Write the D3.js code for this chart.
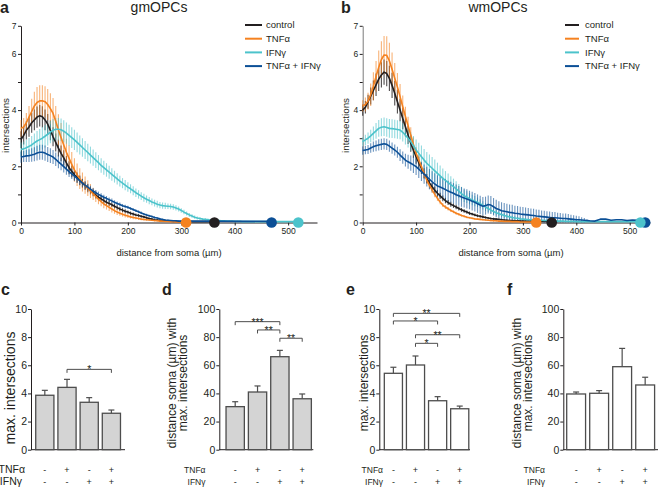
<!DOCTYPE html>
<html><head><meta charset="utf-8">
<script src="https://cdn.jsdelivr.net/npm/d3@7"></script>
<style>body{margin:0;background:#fff;} svg{display:block;font-family:"Liberation Sans",Arial,sans-serif;}</style>
</head><body><svg id="fig" width="660" height="487"></svg>
<script>
// ---------- Sholl profiles (5 µm steps from soma) ----------
const STEP = 5;
const seriesNames = ["control", "TNFα", "IFNγ", "TNFα + IFNγ"];
const lineYTicks = [0,1,2,3,4,5,6,7];
const lineYLabels = [0,2,4,6,7];
const lineXTicks = [0,100,200,300,400,500];

// panel a : gmOPCs
const aCtrl = [2.95,3.1,3.28,3.4,3.55,3.65,3.75,3.8,3.76,3.65,3.5,3.28,3.05,2.85,2.65,2.46,2.3,2.12,1.95,1.82,1.7,1.6,1.5,1.4,1.31,1.22,1.13,1.05,0.97,0.9,0.84,0.78,0.72,0.68,0.63,0.58,0.53,0.48,0.44,0.4,0.37,0.33,0.3,0.27,0.25,0.22,0.2,0.17,0.14,0.12,0.1,0.09,0.08,0.07,0.06,0.05,0.05,0.04,0.04,0.03,0.03];
const aCtrlErr = [0.3,0.32,0.33,0.35,0.36,0.37,0.38,0.38,0.38,0.37,0.36,0.35,0.34,0.32,0.3,0.28,0.27,0.25,0.23,0.21,0.2,0.18,0.17,0.16,0.15,0.14,0.13,0.12,0.12,0.11,0.1,0.1,0.09,0.09,0.08,0.08,0.08,0.07,0.07,0.07,0.06,0.06,0.06,0.05,0.05,0.05,0.04,0.04,0.04,0.03,0.03,0.03,0.03,0.02,0.02,0.02,0.02,0.02,0.01,0.01,0.01];
const aTnf = [3.35,3.4,3.55,3.75,3.95,4.15,4.27,4.33,4.33,4.3,4.2,4.05,3.88,3.6,3.3,3.02,2.76,2.5,2.28,2.07,1.87,1.7,1.56,1.44,1.33,1.22,1.12,1.02,0.93,0.83,0.74,0.66,0.6,0.54,0.48,0.42,0.37,0.33,0.29,0.26,0.23,0.2,0.18,0.16,0.14,0.12,0.11,0.1,0.09,0.08,0.07,0.06,0.05,0.05,0.04,0.04,0.03,0.03,0.02,0.02,0.02];
const aTnfErr = [0.3,0.32,0.35,0.4,0.45,0.5,0.55,0.55,0.55,0.55,0.55,0.55,0.55,0.55,0.55,0.52,0.5,0.48,0.46,0.44,0.42,0.4,0.37,0.34,0.31,0.28,0.25,0.22,0.2,0.18,0.16,0.15,0.14,0.13,0.12,0.11,0.1,0.09,0.08,0.08,0.07,0.06,0.06,0.05,0.05,0.04,0.04,0.04,0.03,0.03,0.03,0.02,0.02,0.02,0.02,0.02,0.02,0.02,0.02,0.02,0.02];
const aIfn = [2.6,2.62,2.66,2.71,2.76,2.83,2.9,2.95,3.0,3.07,3.14,3.22,3.28,3.32,3.32,3.3,3.25,3.18,3.1,3.02,2.94,2.85,2.76,2.67,2.58,2.49,2.4,2.31,2.22,2.13,2.03,1.95,1.87,1.79,1.71,1.63,1.55,1.47,1.4,1.33,1.26,1.2,1.13,1.06,1.0,0.94,0.88,0.83,0.78,0.73,0.69,0.65,0.62,0.6,0.59,0.58,0.57,0.55,0.52,0.48,0.43,0.37,0.32,0.27,0.23,0.19,0.16,0.14,0.12,0.11,0.1,0.09,0.08,0.07,0.07,0.06,0.06,0.05,0.05,0.05,0.04,0.04,0.04,0.03];
const aIfnErr = [0.25,0.26,0.28,0.3,0.32,0.34,0.36,0.38,0.4,0.4,0.4,0.4,0.4,0.4,0.4,0.4,0.39,0.38,0.38,0.37,0.36,0.35,0.34,0.33,0.32,0.31,0.3,0.29,0.28,0.27,0.26,0.25,0.24,0.23,0.22,0.21,0.2,0.19,0.18,0.18,0.17,0.16,0.16,0.15,0.15,0.14,0.14,0.13,0.13,0.12,0.12,0.12,0.11,0.11,0.11,0.1,0.1,0.1,0.09,0.09,0.08,0.08,0.07,0.07,0.06,0.06,0.05,0.05,0.04,0.04,0.04,0.03,0.03,0.03,0.03,0.02,0.02,0.02,0.02,0.02,0.02,0.02,0.02,0.02];
const aBoth = [2.33,2.35,2.37,2.38,2.4,2.43,2.47,2.5,2.5,2.47,2.42,2.38,2.33,2.25,2.16,2.08,1.99,1.9,1.81,1.73,1.65,1.57,1.49,1.41,1.33,1.26,1.19,1.12,1.06,1.0,0.95,0.9,0.86,0.81,0.77,0.72,0.68,0.64,0.6,0.57,0.54,0.5,0.46,0.42,0.38,0.34,0.3,0.27,0.24,0.21,0.18,0.16,0.13,0.11,0.09,0.08,0.07,0.06,0.06,0.05,0.05];
const aBothErr = [0.2,0.2,0.22,0.23,0.24,0.25,0.26,0.27,0.27,0.27,0.27,0.26,0.25,0.24,0.23,0.22,0.21,0.2,0.19,0.18,0.17,0.16,0.15,0.14,0.13,0.12,0.12,0.11,0.1,0.1,0.09,0.09,0.08,0.08,0.08,0.07,0.07,0.07,0.06,0.06,0.06,0.05,0.05,0.05,0.05,0.05,0.04,0.04,0.04,0.04,0.04,0.03,0.03,0.03,0.03,0.03,0.02,0.02,0.02,0.02,0.02];
// maximal process length (end dots), order: control, TNFα, IFNγ, TNFα+IFNγ
const aMaxDist = [362, 309, 519, 469];

// panel b : wmOPCs
const bCtrl = [4.0,4.1,4.3,4.5,4.7,4.9,5.1,5.25,5.35,5.3,5.13,4.88,4.6,4.3,4.0,3.7,3.41,3.11,2.82,2.57,2.34,2.13,1.93,1.75,1.57,1.41,1.27,1.15,1.04,0.95,0.86,0.78,0.71,0.65,0.6,0.55,0.5,0.45,0.41,0.37,0.33,0.3,0.27,0.24,0.22,0.2,0.18,0.16,0.14,0.13,0.12,0.11,0.1,0.09,0.08,0.07,0.07,0.06,0.06,0.05,0.05];
const bCtrlErr = [0.2,0.22,0.25,0.3,0.35,0.4,0.42,0.45,0.45,0.45,0.45,0.45,0.44,0.42,0.4,0.38,0.35,0.32,0.3,0.27,0.25,0.22,0.2,0.18,0.16,0.15,0.14,0.13,0.12,0.11,0.1,0.1,0.09,0.09,0.08,0.08,0.07,0.07,0.06,0.06,0.06,0.05,0.05,0.05,0.05,0.05,0.04,0.04,0.04,0.04,0.04,0.03,0.03,0.03,0.03,0.03,0.02,0.02,0.02,0.02,0.02];
const bTnf = [4.15,4.2,4.32,4.55,4.85,5.2,5.52,5.8,5.96,5.95,5.75,5.45,5.13,4.82,4.48,4.12,3.77,3.44,3.11,2.78,2.46,2.22,1.99,1.74,1.51,1.32,1.16,1.0,0.86,0.73,0.62,0.55,0.49,0.43,0.38,0.33,0.29,0.25,0.22,0.19,0.17,0.15,0.13,0.12,0.11,0.1,0.09,0.08,0.07,0.06,0.06,0.05,0.05,0.04,0.04,0.04,0.03,0.03,0.03,0.02,0.02];
const bTnfErr = [0.2,0.25,0.3,0.4,0.5,0.55,0.6,0.65,0.68,0.68,0.65,0.6,0.55,0.5,0.45,0.4,0.35,0.32,0.28,0.25,0.22,0.2,0.18,0.16,0.14,0.12,0.11,0.1,0.09,0.08,0.07,0.07,0.06,0.06,0.05,0.05,0.05,0.04,0.04,0.04,0.03,0.03,0.03,0.03,0.03,0.03,0.03,0.03,0.03,0.03,0.03,0.02,0.02,0.02,0.02,0.02,0.02,0.02,0.02,0.02,0.02];
const bIfn = [2.88,2.94,3.0,3.08,3.17,3.26,3.35,3.39,3.41,3.38,3.35,3.34,3.33,3.31,3.29,3.21,3.11,3.0,2.88,2.73,2.58,2.46,2.34,2.22,2.11,2.02,1.93,1.84,1.75,1.66,1.57,1.5,1.42,1.35,1.28,1.2,1.12,1.03,0.95,0.9,0.85,0.8,0.76,0.72,0.67,0.61,0.55,0.5,0.44,0.39,0.35,0.31,0.28,0.25,0.22,0.2,0.18,0.16,0.15,0.13,0.12,0.11,0.1,0.1,0.09,0.09,0.08,0.08,0.07,0.07,0.06,0.06,0.05,0.05,0.05,0.05,0.04,0.04,0.04,0.04,0.03,0.03,0.03,0.03,0.03];
const bIfnErr = [0.15,0.18,0.2,0.22,0.25,0.28,0.3,0.32,0.33,0.33,0.33,0.33,0.33,0.33,0.33,0.33,0.33,0.33,0.33,0.35,0.37,0.38,0.4,0.4,0.4,0.4,0.4,0.4,0.38,0.37,0.35,0.33,0.32,0.3,0.28,0.27,0.25,0.24,0.22,0.21,0.2,0.19,0.18,0.17,0.16,0.15,0.14,0.13,0.12,0.11,0.1,0.09,0.08,0.08,0.07,0.07,0.06,0.06,0.05,0.05,0.05,0.04,0.04,0.04,0.04,0.04,0.04,0.03,0.03,0.03,0.03,0.03,0.03,0.02,0.02,0.02,0.02,0.02,0.02,0.01,0.01,0.01,0.01,0.01,0.01];
const bBoth = [2.56,2.58,2.6,2.65,2.7,2.73,2.76,2.78,2.8,2.78,2.72,2.65,2.58,2.5,2.4,2.31,2.22,2.16,2.11,2.05,1.99,1.9,1.81,1.72,1.63,1.54,1.45,1.37,1.3,1.26,1.22,1.17,1.12,1.08,1.04,0.99,0.95,0.91,0.87,0.84,0.8,0.76,0.72,0.67,0.62,0.58,0.6,0.64,0.62,0.56,0.5,0.46,0.42,0.4,0.38,0.36,0.35,0.33,0.32,0.3,0.29,0.28,0.27,0.26,0.25,0.23,0.22,0.21,0.2,0.19,0.18,0.17,0.17,0.16,0.15,0.14,0.14,0.13,0.12,0.11,0.1,0.1,0.09,0.08,0.07,0.06];
const bBothErr = [0.15,0.15,0.16,0.17,0.18,0.19,0.2,0.2,0.2,0.2,0.2,0.2,0.2,0.2,0.21,0.22,0.23,0.25,0.27,0.29,0.3,0.32,0.33,0.34,0.35,0.36,0.37,0.38,0.38,0.38,0.38,0.38,0.37,0.37,0.36,0.36,0.35,0.35,0.34,0.34,0.33,0.33,0.33,0.33,0.33,0.33,0.32,0.32,0.32,0.31,0.31,0.3,0.3,0.29,0.29,0.28,0.28,0.27,0.27,0.26,0.26,0.25,0.25,0.24,0.24,0.23,0.23,0.22,0.22,0.21,0.21,0.2,0.2,0.19,0.19,0.18,0.18,0.17,0.16,0.15,0.14,0.12,0.1,0.08,0.05,0.03];
const bBothTailDist = [435,445,455,465,475,485,495,505,515];
const bBothTailVal = [0.05,0.12,0.12,0.08,0.1,0.1,0.07,0.09,0.08];
const bMaxDist = [354, 325, 520, 529];

// ---------- bar panels ----------
const tnfSigns = ["-","+","-","+"];
const ifnSigns = ["-","-","+","+"];
const cMean = [3.87,4.43,3.37,2.59];
const cSem  = [0.35,0.57,0.33,0.23];
const dMean = [30.6,41,66.1,36.2];
const dSem  = [3.5,4.3,4.5,3.4];
const eMean = [5.43,6.02,3.48,2.91];
const eSem  = [0.43,0.64,0.29,0.19];
const fMean = [39.6,40.1,59,46];
const fSem  = [1.4,1.9,13,5.5];
const cSig = [{a:1,b:3,txt:"*",lvl:5.71}];
const dSig = [{a:0,b:2,txt:"***",lvl:91},{a:1,b:2,txt:"**",lvl:85.1},{a:2,b:3,txt:"**",lvl:79.2}];
const eSig = [{a:0,b:3,txt:"**",lvl:9.69},{a:0,b:2,txt:"*",lvl:9.15},{a:1,b:3,txt:"**",lvl:8.17},{a:1,b:2,txt:"*",lvl:7.56}];
const fSig = [];

const COL = ["#231f20","#f58220","#4cc3cb","#0b4f96"];
const svg = d3.select("#fig");
const FONT = '"Liberation Sans", Arial, Helvetica, sans-serif';

function txt(g, x, y, s, size, anchor, extra) {
  const t = g.append("text").attr("x", x).attr("y", y).text(s).attr("font-family", FONT)
    .attr("font-size", size).attr("text-anchor", anchor || "start").attr("fill", "#231f20");
  if (extra) extra(t);
  return t;
}
function vtxt(g, x, y, s, size) {
  return g.append("text").attr("transform", `translate(${x},${y}) rotate(-90)`).attr("font-family", FONT)
    .attr("text-anchor", "middle").attr("font-size", size).attr("fill", "#231f20").text(s);
}
function styleAxis(sel, color) {
  sel.attr("font-family", FONT);
  sel.selectAll("path.domain").attr("stroke", color || "#231f20").attr("stroke-width", 1);
  sel.selectAll(".tick line").attr("stroke", "#231f20").attr("stroke-width", 1);
  sel.selectAll(".tick text").attr("fill", "#231f20").attr("font-family", FONT);
}

function linePanel(o) {
  const g = svg.append("g");
  const x = d3.scaleLinear().domain([0, o.xMax]).range([o.x0, o.x1]);
  const y = d3.scaleLinear().domain([0, 7]).range([222.5, 25.8]);
  const ya = d3.axisLeft(y).tickValues(lineYTicks)
    .tickFormat(d => lineYLabels.includes(d) ? d : "").tickSize(3).tickPadding(1.5).tickSizeOuter(0);
  const yg = g.append("g").attr("transform", `translate(${o.x0},0)`).call(ya).attr("font-size", 8.5);
  styleAxis(yg, o.yAxisColor);
  const xa = d3.axisBottom(x).tickValues(lineXTicks).tickSize(3).tickPadding(2).tickSizeOuter(0);
  const xg = g.append("g").attr("transform", `translate(0,${y(0)})`).call(xa).attr("font-size", 8.5);
  styleAxis(xg);

  const series = o.series;
  // error bars
  series.forEach((s, k) => {
    const pts = s.vals.map((v, i) => ({d: i * STEP, v: v, e: s.err[i]}));
    g.append("g").selectAll("line").data(pts.filter(p => p.e > 0)).join("line")
      .attr("x1", p => x(p.d)).attr("x2", p => x(p.d))
      .attr("y1", p => y(Math.max(0, p.v - p.e))).attr("y2", p => y(p.v + p.e))
      .attr("stroke", COL[k]).attr("stroke-width", 1.1).attr("opacity", k === 0 ? 0.8 : 0.6);
  });
  // lines
  const line = d3.line().x(p => x(p[0])).y(p => y(p[1]));
  series.forEach((s, k) => {
    const pts = s.vals.map((v, i) => [i * STEP, v]);
    if (s.tailD) s.tailD.forEach((d, i) => pts.push([d, s.tailV[i]]));
    pts.push([s.end, Math.min(pts[pts.length - 1][1], 0.04)]);
    g.append("path").datum(pts).attr("d", line).attr("fill", "none")
      .attr("stroke", COL[k]).attr("stroke-width", 1.6).attr("stroke-linejoin", "round");
  });
  // end dots
  [1, 0, 3, 2].forEach(k => {
    g.append("circle").attr("cx", x(series[k].end)).attr("cy", y(0)).attr("r", 5.3).attr("fill", COL[k]);
  });
  // legend
  seriesNames.forEach((n, k) => {
    const ly = 25 + k * 13.7;
    g.append("line").attr("x1", o.legX).attr("x2", o.legX + o.legLen).attr("y1", ly).attr("y2", ly)
      .attr("stroke", COL[k]).attr("stroke-width", 2);
    txt(g, o.legTx, ly + 3.3, n, 9.5);
  });
  // titles
  txt(g, o.titleX, 12, o.title, 14, "middle");
  txt(g, o.letterX, 13, o.letter, 16, "start", t => t.attr("font-weight", "bold"));
  txt(g, o.xLabX, 256, "distance from soma (µm)", 9.5, "middle");
  vtxt(g, o.yLabX, 125.5, "intersections", 9.8);
}

linePanel({
  x0: 21, x1: 317, xMax: 554, yAxisColor: "#231f20",
  legX: 245, legLen: 17, legTx: 266, title: "gmOPCs", titleX: 159, letter: "a", letterX: 0,
  xLabX: 169, yLabX: 9,
  series: [
    {vals: aCtrl, err: aCtrlErr, end: aMaxDist[0]},
    {vals: aTnf, err: aTnfErr, end: aMaxDist[1]},
    {vals: aIfn, err: aIfnErr, end: aMaxDist[2]},
    {vals: aBoth, err: aBothErr, end: aMaxDist[3]}
  ]
});
linePanel({
  x0: 362.7, x1: 650, xMax: 538, yAxisColor: "#7a7a7a",
  legX: 565, legLen: 14, legTx: 585, title: "wmOPCs", titleX: 498, letter: "b", letterX: 341,
  xLabX: 511, yLabX: 349,
  series: [
    {vals: bCtrl, err: bCtrlErr, end: bMaxDist[0]},
    {vals: bTnf, err: bTnfErr, end: bMaxDist[1]},
    {vals: bIfn, err: bIfnErr, end: bMaxDist[2]},
    {vals: bBoth, err: bBothErr, end: bMaxDist[3], tailD: bBothTailDist, tailV: bBothTailVal}
  ]
});

function barPanel(o) {
  const g = svg.append("g");
  const x = d3.scaleBand().domain(d3.range(o.mean.length)).range([o.bx0, o.bx1]).paddingInner(0.18).paddingOuter(0.1);
  const y = d3.scaleLinear().domain([0, o.yMax]).range([449.7, 309]);
  const ya = d3.axisLeft(y).ticks(5).tickSize(3).tickPadding(1).tickSizeOuter(0);
  const yg = g.append("g").attr("transform", `translate(${o.ax},0)`).call(ya).attr("font-size", 10.5);
  styleAxis(yg);
  g.append("line").attr("x1", o.ax).attr("x2", o.axEnd).attr("y1", y(0)).attr("y2", y(0))
    .attr("stroke", "#231f20").attr("stroke-width", 1);
  // error bars
  g.selectAll("line.err").data(o.mean).join("line").attr("class", "err")
    .attr("x1", (d, i) => x(i) + x.bandwidth() / 2).attr("x2", (d, i) => x(i) + x.bandwidth() / 2)
    .attr("y1", d => y(d)).attr("y2", (d, i) => y(d + o.sem[i]))
    .attr("stroke", "#4d4d4d").attr("stroke-width", 1.2);
  g.selectAll("line.cap").data(o.mean).join("line").attr("class", "cap")
    .attr("x1", (d, i) => x(i) + x.bandwidth() / 2 - 3).attr("x2", (d, i) => x(i) + x.bandwidth() / 2 + 3)
    .attr("y1", (d, i) => y(d + o.sem[i])).attr("y2", (d, i) => y(d + o.sem[i]))
    .attr("stroke", "#4d4d4d").attr("stroke-width", 1.2);
  g.selectAll("rect").data(o.mean).join("rect")
    .attr("x", (d, i) => x(i)).attr("y", d => y(d)).attr("width", x.bandwidth())
    .attr("height", d => y(0) - y(d)).attr("fill", o.fill).attr("stroke", "#4d4d4d").attr("stroke-width", 1.3);
  // significance brackets
  o.sig.forEach(s => {
    const xa = x(s.a) + x.bandwidth() / 2, xb = x(s.b) + x.bandwidth() / 2, yy = y(s.lvl);
    g.append("path").attr("d", `M${xa},${yy + 3.5}V${yy}H${xb}V${yy + 3.5}`)
      .attr("fill", "none").attr("stroke", "#4d4d4d").attr("stroke-width", 1);
    txt(g, (xa + xb) / 2, yy + 4, s.txt, 10.5, "middle");
  });
  // treatment rows
  o.mean.forEach((d, i) => {
    const cx = x(i) + x.bandwidth() / 2;
    txt(g, cx, 472.5, tnfSigns[i], 9, "middle");
    txt(g, cx, 485, ifnSigns[i], 9, "middle");
  });
  txt(g, o.rowLabX, 473, "TNFα", o.rowSize, "end");
  txt(g, o.rowLabX - (o.ifnShift || 0), 485, "IFNγ", o.rowSize, "end");
  txt(g, o.letterX, 295, o.letter, 16, "start", t => t.attr("font-weight", "bold"));
  if (o.yLab2) {
    vtxt(g, o.yLabX, 383, o.yLab, o.yLabSize);
    vtxt(g, o.yLabX2, 383, o.yLab2, o.yLabSize);
  } else {
    vtxt(g, o.yLabX, o.yLabY, o.yLab, o.yLabSize);
  }
}

barPanel({mean: cMean, sem: cSem, sig: cSig, yMax: 10, ax: 31, axEnd: 125, bx0: 33.5, bx1: 122.7,
  fill: "#d4d4d4", letter: "c", letterX: 1, rowLabX: 25, ifnShift: 3, rowSize: 10.5,
  yLab: "max. intersections", yLabX: 15, yLabY: 388, yLabSize: 14});
barPanel({mean: dMean, sem: dSem, sig: dSig, yMax: 100, ax: 219.3, axEnd: 313.3, bx0: 223.8, bx1: 313.6,
  fill: "#d4d4d4", letter: "d", letterX: 162, rowLabX: 205.5, rowSize: 8.5,
  yLab: "distance soma (µm) with", yLab2: "max. intersections", yLabX: 175.5, yLabX2: 186.5, yLabSize: 12});
barPanel({mean: eMean, sem: eSem, sig: eSig, yMax: 10, ax: 379.3, axEnd: 470, bx0: 382.1, bx1: 471,
  fill: "#ffffff", letter: "e", letterX: 346, rowLabX: 383, rowSize: 8.5,
  yLab: "max. intersections", yLabX: 368, yLabY: 383, yLabSize: 12});
barPanel({mean: fMean, sem: fSem, sig: fSig, yMax: 100, ax: 563.3, axEnd: 658, bx0: 564.4, bx1: 656.9,
  fill: "#ffffff", letter: "f", letterX: 507, rowLabX: 545, rowSize: 8.5,
  yLab: "distance soma (µm) with", yLab2: "max. intersections", yLabX: 520.5, yLabX2: 531.5, yLabSize: 12});
</script></body></html>
